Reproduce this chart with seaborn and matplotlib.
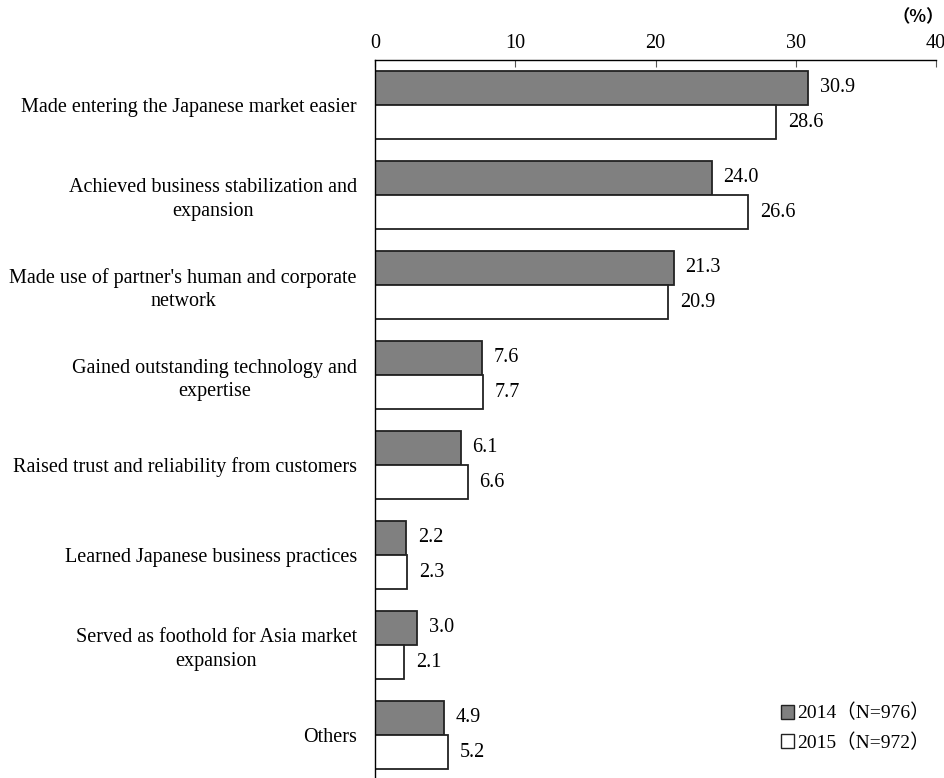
import matplotlib
matplotlib.use("Agg")
import matplotlib.pyplot as plt
import seaborn as sns
import pandas as pd
import numpy as np
from matplotlib.patches import Patch

categories = [
    "Made entering the Japanese market easier",
    "Achieved business stabilization and\nexpansion",
    "Made use of partner's human and corporate\nnetwork",
    "Gained outstanding technology and\nexpertise",
    "Raised trust and reliability from customers",
    "Learned Japanese business practices",
    "Served as foothold for Asia market\nexpansion",
    "Others",
]
values_2014 = [30.9, 24.0, 21.3, 7.6, 6.1, 2.2, 3.0, 4.9]
values_2015 = [28.6, 26.6, 20.9, 7.7, 6.6, 2.3, 2.1, 5.2]
series = ["2014（N=976）", "2015（N=972）"]
xticks = [0, 10, 20, 30, 40]

sns.set_theme(style="white")
plt.rcParams["font.family"] = ["Liberation Serif", "Noto Sans CJK JP"]
plt.rcParams["text.color"] = "black"
plt.rcParams["xtick.color"] = "black"
plt.rcParams["ytick.color"] = "black"

df = pd.DataFrame({
    "category": categories * 2,
    "value": values_2014 + values_2015,
    "year": [series[0]] * len(categories) + [series[1]] * len(categories),
})

fig = plt.figure(figsize=(9.45, 7.78), dpi=100)
ax = fig.add_axes([375 / 945, -2 / 778, 561 / 945, 720 / 778])

colors = {series[0]: "#808080", series[1]: "#ffffff"}
sns.barplot(data=df, y="category", x="value", hue="year", orient="h",
            palette=colors, width=0.76, edgecolor="#222222", linewidth=1.3,
            ax=ax, legend=False)

ax.set_xlim(0, 40)
ax.set_ylim(len(categories) - 0.5, -0.5)
ax.set_xlabel("")
ax.set_ylabel("")

# value labels at the end of each bar
for cont in ax.containers:
    ax.bar_label(cont, fmt="%.1f", padding=8.5, fontsize=14.5, color="black")

# x axis on top
ax.xaxis.tick_top()
ax.set_xticks(xticks)
ax.set_xticklabels([str(t) for t in xticks], fontsize=14.5)
ax.tick_params(axis="x", direction="in", length=5, width=0.8, color="#555555", pad=5)

# category labels and small boundary ticks on the left spine
ax.set_yticks(range(len(categories)))
ax.set_yticklabels(categories, fontsize=14.5, multialignment="center", linespacing=1.3)
ax.tick_params(axis="y", length=0, pad=13)
ax.set_yticks(np.arange(0.5, len(categories) - 0.5, 1), minor=True)
ax.tick_params(axis="y", which="minor", direction="in", length=5, width=0.8, color="#777777")

for side in ["right", "bottom"]:
    ax.spines[side].set_visible(False)
for side in ["top", "left"]:
    ax.spines[side].set_color("black")
    ax.spines[side].set_linewidth(1.0)

fig.text(944 / 945, 1 - 17 / 778, "（%）", ha="right", va="center",
         fontsize=12.5, fontweight="bold", family=["Noto Sans CJK JP", "DejaVu Sans"])

handles = [Patch(facecolor=colors[s], edgecolor="#222222", linewidth=1.0) for s in series]
ax.legend(handles, series, loc="lower right", bbox_to_anchor=(1.02, 0.015),
          frameon=False, fontsize=14, handlelength=0.7, handleheight=0.7,
          handletextpad=0.15, labelspacing=0.55)

fig.savefig("out.png", dpi=100)
